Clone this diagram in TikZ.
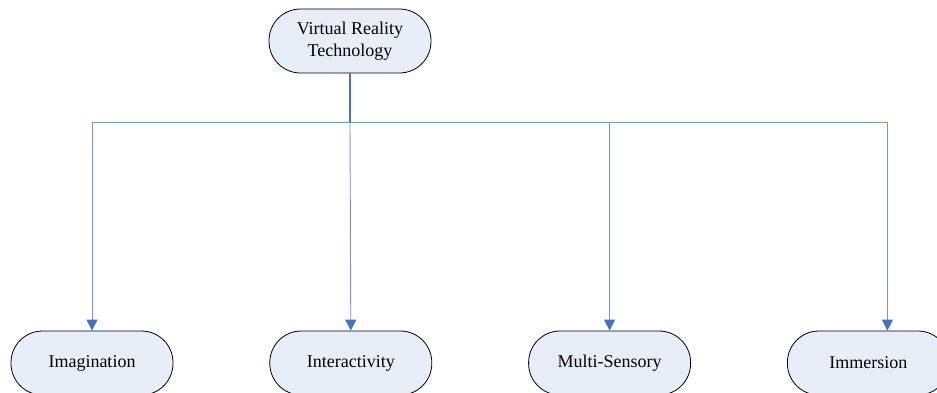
\documentclass[tikz,border=0pt]{standalone}
\usepackage{fontspec}
\setmainfont{Liberation Serif}
\usepackage{xcolor}
\usetikzlibrary{positioning,arrows.meta}

\definecolor{boxfill}{RGB}{232,238,248}
\definecolor{linkblue}{RGB}{68,114,196}

\begin{document}
\begin{tikzpicture}[x=1pt, y=1pt, >={Triangle[width=11pt,length=11pt,color=linkblue]}, node distance=96pt,
	topic/.style={rectangle, rounded corners=31.5pt, draw=black, line width=0.8pt, fill=boxfill,
		minimum width=162pt, minimum height=64pt, inner sep=2pt, align=center,
		font=\fontsize{18}{22}\selectfont},
	trunk/.style={draw=linkblue, line width=1.4pt},
	branch/.style={draw=linkblue!75, line width=0.9pt, ->}]
		\useasboundingbox (0,0) rectangle (937,-392);

		\node[topic] (vrt) at (350,-41) {Virtual Reality\\Technology};

		\node[topic] (imag) at (92,-363) {Imagination};
		\node[topic, right=of imag] (inter) {Interactivity};
		\node[topic, right=of inter] (multi) {Multi-Sensory};
		\node[topic, right=of multi] (immer) {Immersion};

		\path[trunk] (vrt.south) -- ++(0,-49) coordinate (bus);

		\path[branch] (bus) -| (imag.north);
		\path[branch] (bus) -- (inter.north);
		\path[branch] (bus) -| (multi.north);
		\path[branch] (bus) -| ([xshift=19pt]immer.north);
	\end{tikzpicture}
\end{document}
